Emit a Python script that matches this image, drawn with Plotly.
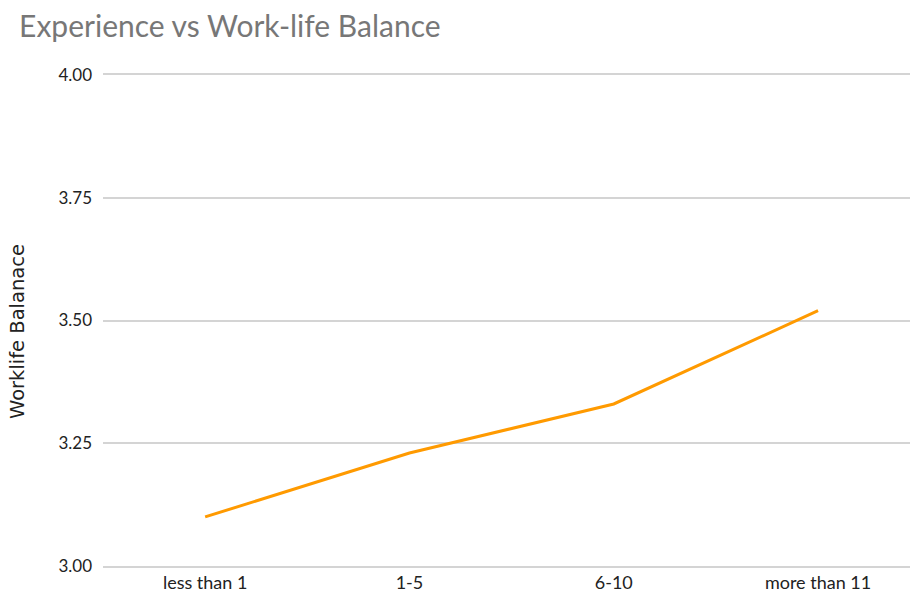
import plotly.graph_objects as go

# Average work-life balance score by years of experience
experience = ["less than 1", "1-5", "6-10", "more than 11"]
worklife_balance = [3.10, 3.23, 3.33, 3.52]
y_ticks = [3.00, 3.25, 3.50, 3.75, 4.00]
y_title = "Worklife Balanace"

GRID = "#d4d4d4"

fig = go.Figure()
fig.add_trace(go.Scatter(
    x=list(range(len(experience))),
    y=worklife_balance,
    mode="lines",
    line=dict(color="#FF9A00", width=3),
    hoverinfo="x+y",
))

fig.update_layout(
    width=910,
    height=595,
    paper_bgcolor="white",
    plot_bgcolor="white",
    margin=dict(l=103, r=0, t=75, b=29, autoexpand=False),
    showlegend=False,
    title=dict(
        text="Experience vs Work-life Balance",
        x=0.021, xanchor="left",
        y=0.955, yanchor="middle",
        font=dict(family="Lato, Open Sans, sans-serif", size=30, color="#777777"),
    ),
    font=dict(family="Lato, Open Sans, sans-serif", size=13, color="#222222"),
)

# top and bottom rules of the plot area act as the 4.00 and 3.00 gridlines
fig.update_xaxes(
    range=[-0.5, 3.45],
    tickmode="array",
    tickvals=list(range(len(experience))),
    ticktext=experience,
    showgrid=False,
    showline=True,
    mirror=True,
    linecolor=GRID,
    linewidth=1.5,
    zeroline=False,
    ticks="",
    automargin=False,
    ticklabelstandoff=0,
    tickfont=dict(size=18, color="#222222"),
)

fig.update_yaxes(
    range=[3.0, 4.0],
    tickmode="array",
    tickvals=y_ticks,
    tickformat=".2f",
    showgrid=True,
    gridcolor=GRID,
    gridwidth=1.5,
    zeroline=False,
    showline=False,
    ticks="",
    automargin=False,
    ticklabelstandoff=10,
    tickfont=dict(size=17, color="#222222"),
)

# vertical axis title, placed as a rotated annotation left of the tick labels
fig.add_annotation(
    text=y_title,
    textangle=-90,
    xref="paper", yref="paper",
    x=0, y=0.4766,
    xanchor="center", yanchor="middle",
    xshift=-85,
    showarrow=False,
    font=dict(family="DejaVu Sans", size=19.5, color="#222222"),
)

fig.write_html("out.html")
